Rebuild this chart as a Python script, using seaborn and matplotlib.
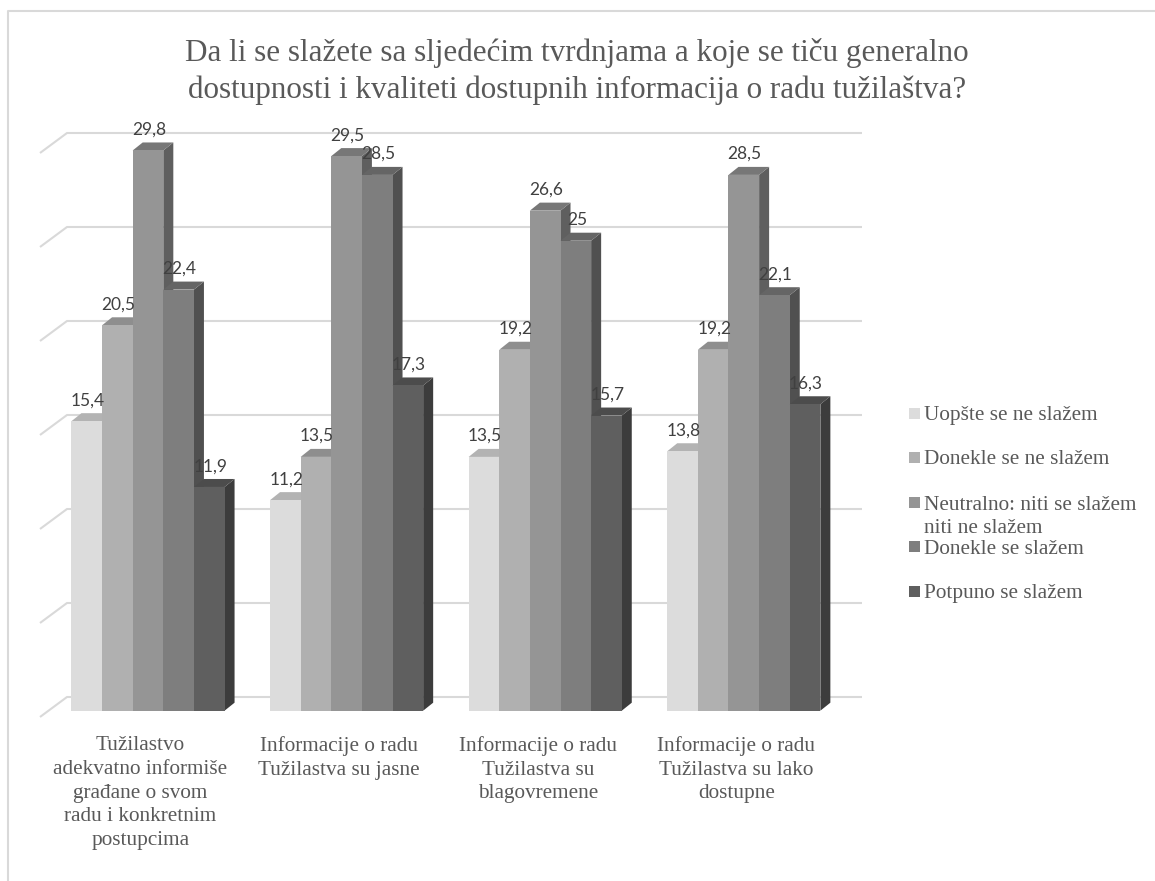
import matplotlib
matplotlib.use("Agg")
import matplotlib.pyplot as plt
from matplotlib.lines import Line2D
from matplotlib.patches import Polygon, Rectangle
import pandas as pd
import seaborn as sns

categories = [
    "Tužilastvo\nadekvatno informiše\ngrađane o svom\nradu i konkretnim\npostupcima",
    "Informacije o radu\nTužilastva su jasne",
    "Informacije o radu\nTužilastva su\nblagovremene",
    "Informacije o radu\nTužilastva su lako\ndostupne",
]
answers = [
    "Uopšte se ne slažem",
    "Donekle se ne slažem",
    "Neutralno: niti se slažem\nniti ne slažem",
    "Donekle se slažem",
    "Potpuno se slažem",
]
uopste = [15.4, 11.2, 13.5, 13.8]
donekle_ne = [20.5, 13.5, 19.2, 19.2]
neutralno = [29.8, 29.5, 26.6, 28.5]
donekle_da = [22.4, 28.5, 25, 22.1]
potpuno = [11.9, 17.3, 15.7, 16.3]
grid_values = [0, 5, 10, 15, 20, 25, 30]

title = ("Da li se slažete sa sljedećim tvrdnjama a koje se tiču generalno\n"
         "dostupnosti i kvaliteti dostupnih informacija o radu tužilaštva?")

front_colors = ["#dcdcdc", "#b0b0b0", "#959595", "#7e7e7e", "#5f5f5f"]
top_colors = ["#b3b3b3", "#8e8e8e", "#777777", "#656565", "#4c4c4c"]
side_colors = ["#8c8c8c", "#707070", "#5f5f5f", "#505050", "#3c3c3c"]

W, H = 1155, 881
# pixel position of the value axis / category axis
X0, PX_PER_CAT = 148.0, 198.6
Y0, PX_PER_UNIT = 710.7, 18.8

df = pd.DataFrame({
    "kategorija": categories * 5,
    "odgovor": [a for a in answers for _ in categories],
    "procenat": uopste + donekle_ne + neutralno + donekle_da + potpuno,
})

sns.set_theme(style="white")
plt.rcParams["font.family"] = ["Liberation Serif", "DejaVu Serif"]

fig = plt.figure(figsize=(W / 100, H / 100), dpi=100, facecolor="white")
ax = fig.add_axes([0, 0, 1, 1])

sns.barplot(data=df, x="kategorija", y="procenat", hue="odgovor", order=categories,
            hue_order=answers, palette=front_colors, width=0.771, gap=0,
            saturation=1, legend=False, ax=ax, linewidth=0)

ax.set_xlim((0 - X0) / PX_PER_CAT, (W - X0) / PX_PER_CAT)
ax.set_ylim((Y0 - H) / PX_PER_UNIT, Y0 / PX_PER_UNIT)
ax.axis("off")

# depth of the bars and of the back wall, in data units
bar_dx, bar_dy = 10 / PX_PER_CAT, 8 / PX_PER_UNIT
wall_dy = 13.7 / PX_PER_UNIT
wall_left, wall_right = (67 - X0) / PX_PER_CAT, (862 - X0) / PX_PER_CAT
diag_left = (40 - X0) / PX_PER_CAT
diag_dy = 20 / PX_PER_UNIT

# back wall
for v in grid_values:
    ax.plot([diag_left, wall_left, wall_right],
            [v + wall_dy - diag_dy, v + wall_dy, v + wall_dy],
            color="#d9d9d9", lw=1.5, zorder=0.5, solid_capstyle="butt")

# 3d faces, left to right so that each bar covers the side of the previous one
bars = []
for i, cont in enumerate(ax.containers):
    for bar in cont:
        bars.append((bar.get_x(), i, bar))
bars.sort(key=lambda t: t[0])

z = 2
for x, i, bar in bars:
    w, h = bar.get_width(), bar.get_height()
    side = Polygon([(x + w, 0), (x + w + bar_dx, bar_dy), (x + w + bar_dx, h + bar_dy), (x + w, h)],
                   closed=True, facecolor=side_colors[i], edgecolor="none", zorder=z)
    top = Polygon([(x, h), (x + bar_dx, h + bar_dy), (x + w + bar_dx, h + bar_dy), (x + w, h)],
                  closed=True, facecolor=top_colors[i], edgecolor="none", zorder=z)
    ax.add_patch(side)
    ax.add_patch(top)
    bar.set_zorder(z + 0.5)
    z += 1

# data labels
for x, i, bar in bars:
    lab = f"{bar.get_height():g}".replace(".", ",")
    ax.annotate(lab, (x + bar.get_width() / 2, bar.get_height()), xytext=(0.7, 15),
                textcoords="offset points", ha="center", va="center",
                fontsize=12.5, color="#404040", family=["Lato", "DejaVu Sans"], zorder=100)

# category labels, they sit a bit left of the bar groups
for k, cat in enumerate(categories):
    ax.text(k - 7.5 / PX_PER_CAT, (Y0 - 736) / PX_PER_UNIT, cat, ha="center", va="top",
            fontsize=15.3, color="#595959", linespacing=1.34, zorder=100)

# title
fig.text(577 / W, 1 - 71.5 / H, title, ha="center", va="center", fontsize=22.4,
         color="#595959", linespacing=1.3)

# legend
legend_y = [415.5, 459.5, 517, 549, 593.5]
key_y = [413, 457, 502, 546.5, 591]
for name, col, ly, ky in zip(answers, front_colors, legend_y, key_y):
    fig.add_artist(Rectangle((909 / W, 1 - (ky + 5.5) / H), 11 / W, 11 / H,
                             transform=fig.transFigure, facecolor=col, edgecolor="none"))
    fig.text(924 / W, 1 - ly / H, name, ha="left", va="center", fontsize=15.3,
             color="#595959", linespacing=1.25)

# chart border, only top and left are inside the picture
fig.add_artist(Line2D([7.5 / W, 7.5 / W, 1], [0, 1 - 10.5 / H, 1 - 10.5 / H],
                      transform=fig.transFigure, color="#d9d9d9", lw=1.5))

fig.savefig("out.png", dpi=100)
